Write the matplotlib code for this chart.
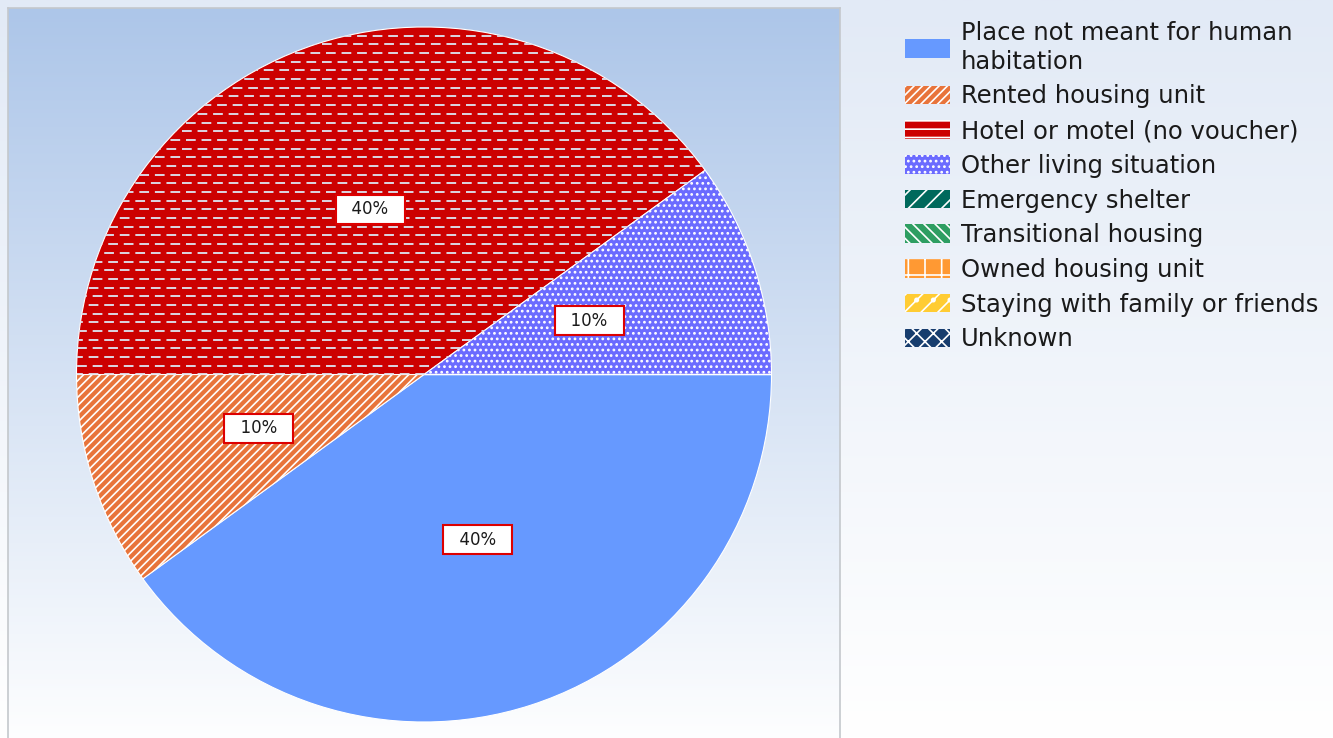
import matplotlib.pyplot as plt
import matplotlib.patches as mpatches
import numpy as np

# data
categories = ["Place not meant for human\nhabitation", "Rented housing unit",
              "Hotel or motel (no voucher)", "Other living situation",
              "Emergency shelter", "Transitional housing", "Owned housing unit",
              "Staying with family or friends", "Unknown"]
shares = [40, 10, 40, 10, 0, 0, 0, 0, 0]

colors = ["#6699ff", "#e8743b", "#cc0000", "#6b6bff", "#00695c",
          "#2e9e62", "#ff9933", "#ffcc33", "#173d6e"]
hatches = [None, "////", None, "...", "//", "\\\\\\", "+", "//.", "xx"]

plt.rcParams['hatch.linewidth'] = 1.2
plt.rcParams['font.family'] = 'DejaVu Sans'

W, H = 1333, 738
fig = plt.figure(figsize=(W / 100, H / 100), dpi=100)


def gradient(top, bottom):
    t = np.linspace(0, 1, 256).reshape(-1, 1, 1)
    top = np.array(plt.matplotlib.colors.to_rgb(top))
    bottom = np.array(plt.matplotlib.colors.to_rgb(bottom))
    return top * (1 - t) + bottom * t


# figure background
bg = fig.add_axes([0, 0, 1, 1], zorder=-3)
bg.imshow(gradient("#e2eaf6", "#ffffff"), aspect='auto', extent=[0, 1, 0, 1])
bg.axis('off')

# plot panel
panel = fig.add_axes([8 / W, -0.02, 832 / W, (H - 8) / H + 0.02], zorder=-2)
panel.imshow(gradient("#adc6e9", "#ffffff"), aspect='auto', extent=[0, 1, 0, 1])
panel.set_xticks([])
panel.set_yticks([])
for s in panel.spines.values():
    s.set_color("#c4c8cc")
    s.set_linewidth(1.2)

# pie
ax = fig.add_axes([76 / W, (H - 722) / H, 696 / W, 695 / H])
wedges, texts, autotexts = ax.pie(
    shares, colors=colors, startangle=0, counterclock=False,
    autopct=lambda p: f"  {p:.0f}%  " if p > 0 else "", pctdistance=0.5,
    wedgeprops=dict(edgecolor="white", linewidth=0.8),
    textprops=dict(fontsize=12, color="#1a1a1a"))
for w, h in zip(wedges, hatches):
    if h:
        w.set_hatch(h)
for t in autotexts:
    if t.get_text():
        t.set_bbox(dict(boxstyle="square,pad=0.33", facecolor="white",
                        edgecolor="#dd0000", linewidth=1.5))
ax.set_xlim(-1, 1)
ax.set_ylim(-1, 1)

# dashed texture for the hotel wedge
hotel = wedges[2]
for i, y in enumerate(np.arange(-1, 1, 0.025)):
    shift = 0.012 if i % 2 else 0
    ln, = ax.plot([-1.1 + shift, 1.1 + shift], [y, y], color="#dcd6e2",
                  lw=1.4, dashes=(5, 3), dash_capstyle='butt')
    ln.set_clip_path(hotel)

# legend
handles = []
for c, h, lab in zip(colors, hatches, categories):
    if lab.startswith("Hotel"):
        h = "--"
    handles.append(mpatches.Patch(facecolor=c, edgecolor="white",
                                  hatch=h, linewidth=0, label=lab))
leg = fig.legend(handles=handles, loc='upper left',
                 bbox_to_anchor=(905 / W, 1 - 21 / H), frameon=False,
                 fontsize=17.5, handlelength=1.85, handleheight=0.8,
                 handletextpad=0.45, labelspacing=0.44, borderpad=0,
                 borderaxespad=0)
for t in leg.get_texts():
    t.set_color("#1a1a1a")
    t.set_linespacing(1.25)

fig.savefig("out.png", dpi=100)
